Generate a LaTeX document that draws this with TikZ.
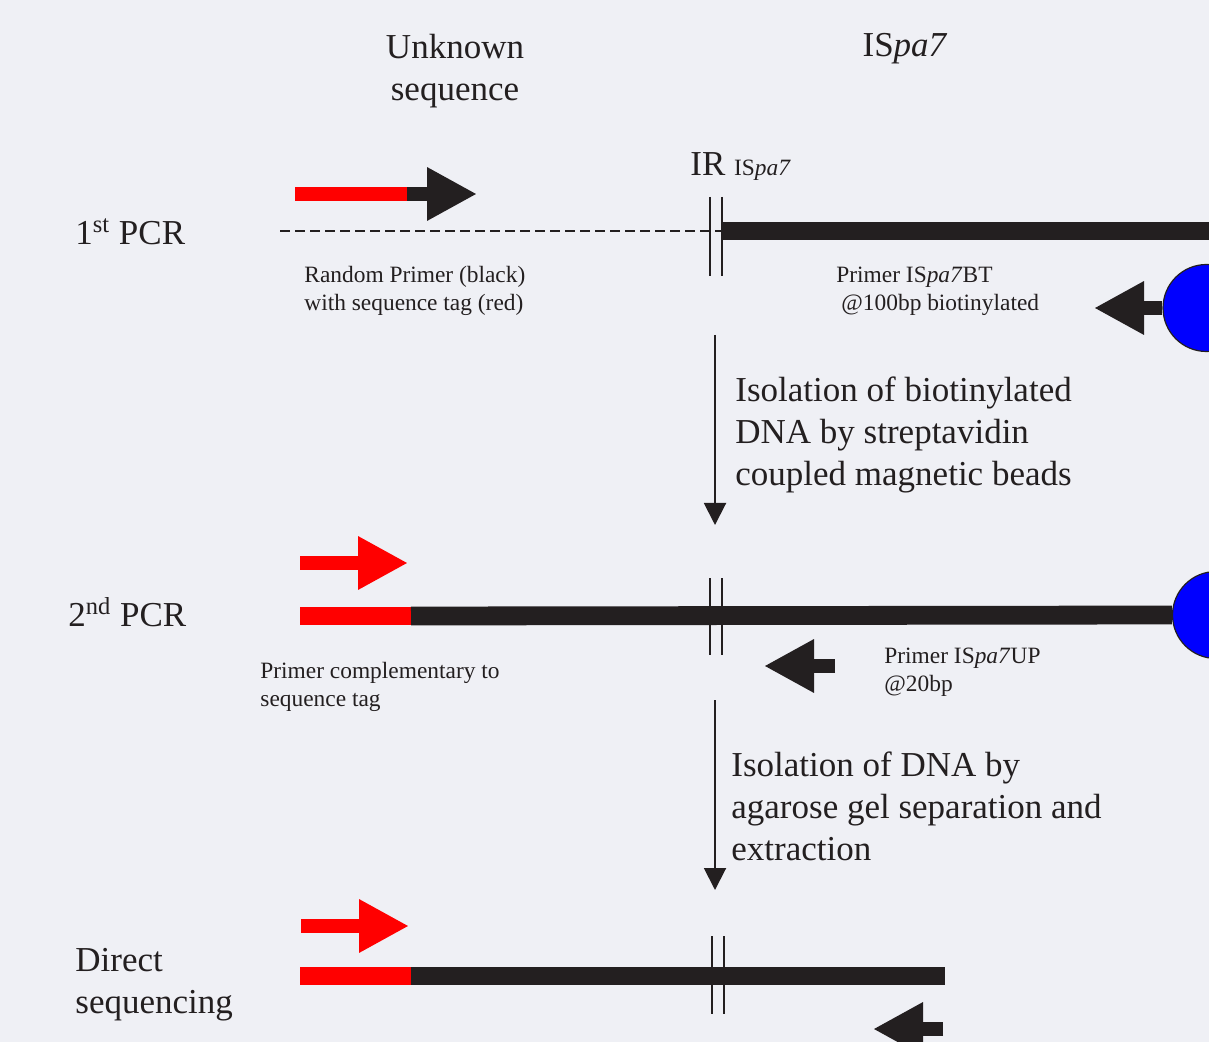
\documentclass[tikz,border=0pt]{standalone}
\usepackage{fontspec}
\setmainfont{Liberation Serif}
\usetikzlibrary{arrows.meta}

\definecolor{bgcol}{RGB}{239,240,245}
\definecolor{ink}{RGB}{35,31,32}
\definecolor{tagred}{RGB}{255,0,0}
\definecolor{beadblue}{RGB}{0,0,255}
\newcommand{\bigtxt}{\fontsize{17.5}{21}\selectfont}
\newcommand{\smalltxt}{\fontsize{11.7}{14.2}\selectfont}

\begin{document}
\begin{tikzpicture}[x=0.5pt, y=-0.5pt,
    every node/.style={inner sep=0pt, text=ink},
    big/.style={font=\bigtxt, align=left, anchor=west},
    small/.style={font=\smalltxt, align=left, anchor=west},
    strand/.style={line width=9.4pt, ink},
    tag/.style={line width=9pt, tagred},
    primer/.style={line width=7pt, -{Triangle[length=25pt, width=25pt]}},
    irline/.style={line width=0.8pt, ink},
    bead/.style={circle, draw=ink, line width=0.6pt, fill=beadblue, minimum size=43.5pt},
    flow/.style={line width=1pt, ink, -{Triangle[length=11pt, width=11pt]}}]

    % the page
    \fill[bgcol] (0,0) rectangle (1209,1042);
    \useasboundingbox (0,0) rectangle (1209,1042);
    \clip (0,0) rectangle (1209,1042);

    % the headings
    \node[font=\bigtxt, align=center] (unknown) at (455,71) {Unknown\\sequence};
    \node[font=\bigtxt, anchor=base] (ispa) at (905,57) {IS\textit{pa7}};
    \node[big, anchor=base west] (ir) at (690,176) {IR {\smalltxt IS\textit{pa7}}};

    % first PCR
    \node[big] (pcr1) at (75,232) {1\textsuperscript{st} PCR};
    \draw[line width=1pt, ink, dash pattern=on 5pt off 2.5pt] (280,231) -- (722,231);
    \draw[strand] (721,231) -- (1215,231);
    \draw[tagred, line width=7pt] (295,194) -- (407,194);
    \draw[primer, ink] (407,194) -- (477,194);
    \node[small] (randlbl) at (304,291) {Random Primer (black)\\with sequence tag (red)};
    \node[small] (btlbl) at (836,291) {Primer IS\textit{pa7}BT\\\hspace*{2.5pt}@100bp biotinylated};
    \node[bead] (bead1) at (1206.5,308) {};
    \coordinate (bttip) at (1094,308);
    \draw[primer, ink] (bead1.west) -- (bttip);

    % first isolation step
    \coordinate (f1a) at (715,335);
    \coordinate (f1b) at (715,525);
    \draw[flow] (f1a) -- (f1b);
    \node[big] (iso1) at (735,435) {Isolation of biotinylated\\DNA by streptavidin\\coupled magnetic beads};

    % second PCR
    \node[big] (pcr2) at (68,612) {2\textsuperscript{nd} PCR};
    \draw[primer, tagred] (300,563) -- (408,563);
    \node[bead] (bead2) at (1216,615) {};
    \draw[tag] (300,616) -- (411,616);
    \draw[strand] (411,616) -- (bead2.west);
    \node[small] (compl) at (260,687) {Primer complementary to\\sequence tag};
    \draw[primer, ink] (835,666) -- (764,666);
    \node[small] (uplbl) at (884,672) {Primer IS\textit{pa7}UP\\@20bp};

    % second isolation step
    \coordinate (f2a) at (715,700);
    \coordinate (f2b) at (715,890);
    \draw[flow] (f2a) -- (f2b);
    \node[big] (iso2) at (731,806) {Isolation of DNA by\\agarose gel separation and\\extraction};

    % direct sequencing
    \node[big] (direct) at (75,985) {Direct\\sequencing};
    \draw[primer, tagred] (301,926) -- (409,926);
    \draw[tag] (300,976) -- (411,976);
    \draw[strand] (411,976) -- (945,976);
    \draw[primer, ink] (943,1029) -- (873,1029);

    % the IR marks
    \foreach \xa/\ya/\yb in {710/197/276, 710/578/655, 712/936/1014} {
        \draw[irline] (\xa,\ya) -- (\xa,\yb);
        \draw[irline] (\xa+12,\ya) -- (\xa+12,\yb);
    }

\end{tikzpicture}
\end{document}
